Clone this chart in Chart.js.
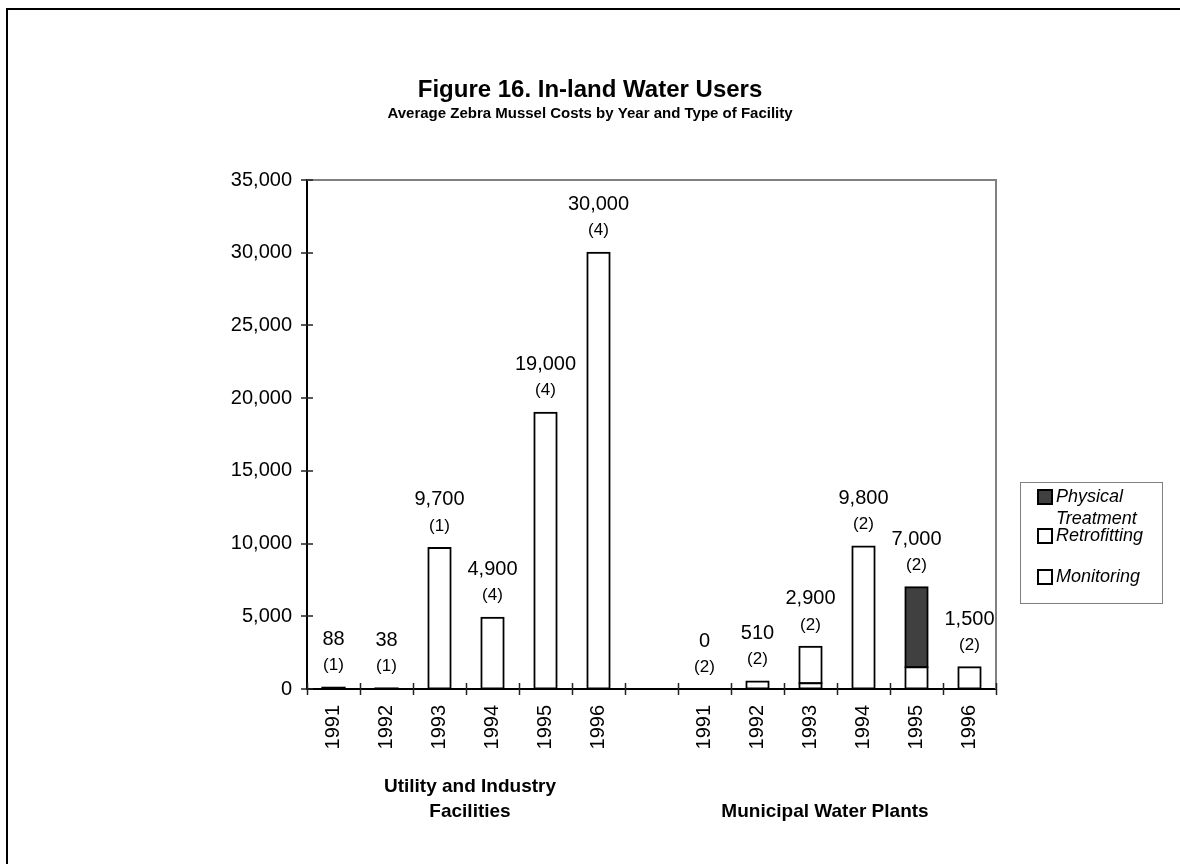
<!DOCTYPE html>
<html>
<head>
<meta charset="utf-8">
<title>Figure 16. In-land Water Users</title>
<script src="https://cdn.jsdelivr.net/npm/chart.js@4/dist/chart.umd.min.js"></script>
<style>
  html, body { margin: 0; padding: 0; background: #fff; }
  canvas { display: block; }
</style>
</head>
<body>
<canvas id="chart" width="1180" height="864"></canvas>
<script>
// Category slots: six years per facility type, with an empty slot between the groups
const categories = ['1991', '1992', '1993', '1994', '1995', '1996', '',
                    '1991', '1992', '1993', '1994', '1995', '1996'];
const groupLabels = [
  { lines: ['Utility and Industry', 'Facilities'], from: 0, to: 5, shift: 4 },
  { lines: ['Municipal Water Plants'], from: 7, to: 12, shift: -12 }
];

// Average cost per facility, by cost type (null = no segment)
const monitoring   = [88, 38, null, null, null, null, null, null, 510, 400, null, null, 1500];
const retrofitting = [null, null, 9700, 4900, 19000, 30000, null, null, null, 2500, 9800, 1500, null];
const physical     = [null, null, null, null, null, null, null, null, null, null, null, 5500, null];

// Number of facilities reporting in each year
const counts = [1, 1, 1, 4, 4, 4, null, 2, 2, 2, 2, 2, 2];

const yTicks = { min: 0, max: 35000, step: 5000 };

const FONT = "'Liberation Sans', Arial, Helvetica, sans-serif";

const legendItems = [
  { lines: ['Physical', 'Treatment'], fill: '#404040', y: [497, 519] },
  { lines: ['Retrofitting'], fill: '#ffffff', y: [536] },
  { lines: ['Monitoring'], fill: '#ffffff', y: [577] }
];

function totalAt(i) {
  return [monitoring, retrofitting, physical]
    .reduce((s, arr) => s + (arr[i] == null ? 0 : arr[i]), 0);
}

const decorations = {
  id: 'decorations',
  afterDatasetsDraw(chart) {
    const { ctx, chartArea: a, scales: { x, y } } = chart;
    ctx.save();

    // grey frame on the top and right of the plot area
    ctx.strokeStyle = '#808080';
    ctx.lineWidth = 2;
    ctx.beginPath();
    ctx.moveTo(a.left, a.top);
    ctx.lineTo(a.right, a.top);
    ctx.lineTo(a.right, a.bottom);
    ctx.stroke();

    // tick marks crossing the axes
    ctx.strokeStyle = '#222';
    ctx.lineWidth = 1.5;
    ctx.beginPath();
    for (let v = yTicks.min; v <= yTicks.max; v += yTicks.step) {
      const py = Math.round(y.getPixelForValue(v));
      ctx.moveTo(a.left - 6, py);
      ctx.lineTo(a.left + 6, py);
    }
    const slot = (x.getPixelForValue(1) - x.getPixelForValue(0));
    for (let i = 0; i <= categories.length; i++) {
      const px = Math.round(x.getPixelForValue(0) - slot / 2 + i * slot) + 0.5;
      ctx.moveTo(px, a.bottom - 6);
      ctx.lineTo(px, a.bottom + 6);
    }
    ctx.stroke();

    // value and facility-count labels above each bar
    ctx.fillStyle = '#000';
    ctx.textAlign = 'center';
    ctx.textBaseline = 'middle';
    categories.forEach((c, i) => {
      if (counts[i] == null) return;
      const total = totalAt(i);
      const px = x.getPixelForValue(i);
      const top = y.getPixelForValue(total);
      ctx.font = `20px ${FONT}`;
      ctx.fillText(total.toLocaleString('en-US'), px, top - 48);
      ctx.font = `17px ${FONT}`;
      ctx.fillText(`(${counts[i]})`, px, top - 22);
    });

    // facility-type group labels below the year labels
    ctx.font = `bold 19px ${FONT}`;
    groupLabels.forEach(g => {
      const cx = (x.getPixelForValue(g.from) + x.getPixelForValue(g.to)) / 2 + g.shift;
      const startY = g.lines.length > 1 ? 787 : 812;
      g.lines.forEach((t, k) => ctx.fillText(t, cx, startY + k * 25));
    });

    // legend box
    ctx.strokeStyle = '#808080';
    ctx.lineWidth = 1;
    ctx.strokeRect(1020.5, 482.5, 142, 121);
    ctx.textAlign = 'left';
    ctx.font = `italic 18px ${FONT}`;
    legendItems.forEach(it => {
      const sy = it.y[0];
      ctx.fillStyle = it.fill;
      ctx.fillRect(1038, sy - 7, 14, 14);
      ctx.strokeStyle = '#000';
      ctx.lineWidth = 2;
      ctx.strokeRect(1038, sy - 7, 14, 14);
      ctx.fillStyle = '#000';
      it.lines.forEach((t, k) => ctx.fillText(t, 1056, it.y[k]));
    });

    // outer frame
    ctx.strokeStyle = '#000';
    ctx.lineWidth = 2;
    ctx.beginPath();
    ctx.moveTo(7, 864);
    ctx.lineTo(7, 9);
    ctx.lineTo(1180, 9);
    ctx.stroke();

    ctx.restore();
  }
};

// very short bars are drawn as a solid black sliver (outline only)
const isSliver = c => c.raw != null && c.raw < 200;

function barStyle(fill) {
  return {
    backgroundColor: c => (isSliver(c) ? '#000000' : fill),
    borderColor: '#000000',
    borderWidth: c => (isSliver(c) ? 0 : 2),
    borderSkipped: false,
    barPercentage: 0.42,
    categoryPercentage: 1,
    inflateAmount: 1
  };
}

new Chart(document.getElementById('chart'), {
  type: 'bar',
  data: {
    labels: categories,
    datasets: [
      Object.assign({ label: 'Monitoring', data: monitoring }, barStyle('#ffffff')),
      Object.assign({ label: 'Retrofitting', data: retrofitting }, barStyle('#ffffff')),
      Object.assign({ label: 'Physical Treatment', data: physical }, barStyle('#404040'))
    ]
  },
  options: {
    responsive: false,
    animation: false,
    layout: { padding: 0 },
    scales: {
      x: {
        stacked: true,
        grid: { display: true, drawOnChartArea: false, drawTicks: false },
        border: { color: '#000', width: 2 },
        ticks: {
          autoSkip: false, minRotation: 90, maxRotation: 90, padding: 16,
          color: '#000', font: { family: FONT, size: 20 }
        },
        afterFit(s) { s.height = 175; }
      },
      y: {
        stacked: true,
        min: yTicks.min,
        max: yTicks.max,
        grid: { display: true, drawOnChartArea: false, drawTicks: false },
        border: { color: '#000', width: 2 },
        ticks: {
          stepSize: yTicks.step, padding: 15, color: '#000',
          font: { family: FONT, size: 20 },
          callback: v => v.toLocaleString('en-US')
        },
        afterFit(s) { s.width = 307; }
      },
      // empty right-hand band that holds the legend
      legendBand: {
        type: 'linear',
        position: 'right',
        display: true,
        grid: { display: false, drawTicks: false },
        border: { display: false },
        ticks: { display: false },
        afterFit(s) { s.width = 184; }
      }
    },
    plugins: {
      legend: { display: false },
      tooltip: { enabled: false },
      title: {
        display: true,
        text: 'Figure 16. In-land Water Users',
        color: '#000',
        font: { family: FONT, size: 24, weight: 'bold' },
        padding: { top: 76, bottom: 0 }
      },
      subtitle: {
        display: true,
        text: 'Average Zebra Mussel Costs by Year and Type of Facility',
        color: '#000',
        font: { family: FONT, size: 15, weight: 'bold' },
        padding: { top: 0, bottom: 57.2 }
      }
    }
  },
  plugins: [decorations]
});
</script>
</body>
</html>
